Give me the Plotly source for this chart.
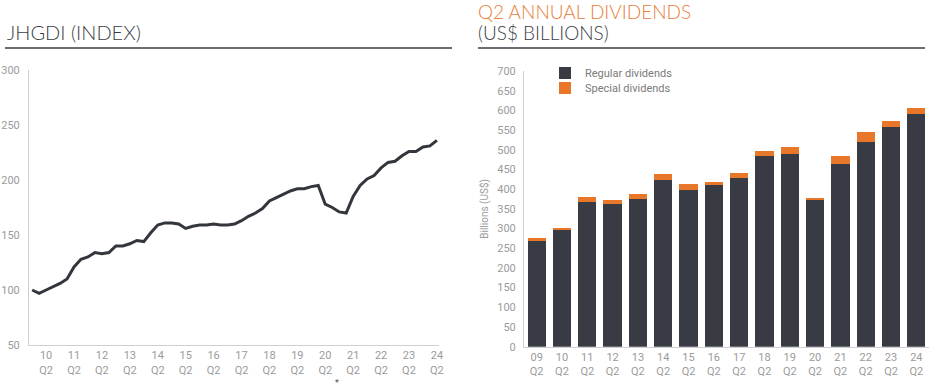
import plotly.graph_objects as go

# ---- Left chart data: JHGDI index, quarterly from 09Q4 to 24Q2 ----
quarters = []
for y in range(9, 25):
    for q in range(1, 5):
        lab = f"{y:02d}Q{q}"
        if (y == 9 and q < 4) or (y == 24 and q > 2):
            continue
        quarters.append(lab)

index_values = [100, 97, 100, 103, 106, 110, 121, 128, 130, 134, 133, 134,
                140, 140, 142, 145, 144, 152, 159, 161, 161, 160, 156, 158,
                159, 159, 160, 159, 159, 160, 163, 167, 170, 174, 181, 184,
                187, 190, 192, 192, 194, 195, 178, 175, 171, 170, 185, 195,
                201, 204, 211, 216, 217, 222, 226, 226, 230, 231, 236]

left_tick_labels = [f"{y}<br>Q2" for y in range(10, 25)]
left_tick_cats = [f"{y}Q2" for y in range(10, 25)]

# ---- Right chart data: Q2 annual dividends (US$ bn) ----
div_years = ["09", "10", "11", "12", "13", "14", "15", "16",
             "17", "18", "19", "20", "21", "22", "23", "24"]
regular = [268, 296, 368, 362, 376, 422, 398, 410,
           429, 484, 489, 374, 464, 519, 559, 591]
special = [9, 6, 13, 11, 11, 16, 15, 9,
           12, 12, 18, 4, 20, 27, 14, 15]
div_labels = [f"{y}<br>Q2" for y in div_years]

W, H = 939, 388
def px(x):
    return x / W
def py(y):
    return 1 - y / H

DARK = "#383b44"
ORANGE = "#e8772a"
TICK = "#9b9b9b"
AXIS = "#cfcfcf"

fig = go.Figure()

xs = list(range(len(quarters)))
fig.add_trace(go.Scatter(x=xs, y=index_values, mode="lines",
                         line=dict(color="#33363d", width=3),
                         xaxis="x", yaxis="y", showlegend=False))

fig.add_trace(go.Bar(x=div_labels, y=regular, name="Regular dividends",
                     marker=dict(color=DARK, line=dict(width=0)),
                     xaxis="x2", yaxis="y2", legend="legend"))
fig.add_trace(go.Bar(x=div_labels, y=special, name="Special dividends",
                     marker=dict(color=ORANGE, line=dict(width=0)),
                     xaxis="x2", yaxis="y2", legend="legend2"))

tickvals_left = [quarters.index(c) for c in left_tick_cats]

tickfont = dict(family="Roboto", size=11, color=TICK)
legfont = dict(family="Roboto", size=11, color="#7a7a7a")

fig.update_layout(
    width=W, height=H,
    margin=dict(l=0, r=0, t=0, b=0, autoexpand=False),
    paper_bgcolor="white", plot_bgcolor="white",
    barmode="stack", bargap=0.28,
    font=dict(family="Roboto", color=TICK),
    xaxis=dict(domain=[px(29), px(439)], range=[-0.45, 58.3],
               tickvals=tickvals_left, ticktext=left_tick_labels,
               showgrid=False, zeroline=False, showline=True,
               linecolor=AXIS, linewidth=1, ticks="", tickfont=tickfont,
               anchor="y", automargin=False),
    yaxis=dict(domain=[py(345), py(70)], range=[50, 300], dtick=50,
               showgrid=False, zeroline=False, showline=True,
               linecolor=AXIS, linewidth=1, ticks="", tickfont=tickfont,
               anchor="x", ticklabelstandoff=6, automargin=False),
    xaxis2=dict(domain=[px(524), px(929)], showgrid=False, zeroline=False,
                showline=True, linecolor=AXIS, linewidth=1, ticks="",
                tickfont=tickfont, anchor="y2", tickangle=0, automargin=False),
    yaxis2=dict(domain=[py(346.7), py(71)], range=[0, 700], dtick=50,
                showgrid=False, zeroline=False, showline=True,
                linecolor=AXIS, linewidth=1, ticks="", tickfont=tickfont,
                anchor="x2", ticklabelstandoff=5, automargin=False,
                title=dict(text="Billions (US$)", standoff=6,
                           font=dict(family="Roboto", size=10, color=TICK))),
    legend=dict(x=px(545), y=py(73), xanchor="left", yanchor="middle",
                font=legfont, bgcolor="rgba(0,0,0,0)", itemwidth=30),
    legend2=dict(x=px(545), y=py(88), xanchor="left", yanchor="middle",
                 font=legfont, bgcolor="rgba(0,0,0,0)", itemwidth=30),
    showlegend=True,
)

# Titles
fig.add_annotation(x=px(5), y=py(32), xref="paper", yref="paper",
                   text="JHGDI (INDEX)", showarrow=False, xanchor="left",
                   yanchor="middle",
                   font=dict(family="Lato", size=20, weight=300, color="#3a3d45"))
fig.add_annotation(x=px(476), y=py(11), xref="paper", yref="paper",
                   text="Q2 ANNUAL DIVIDENDS", showarrow=False, xanchor="left",
                   yanchor="middle",
                   font=dict(family="Lato", size=19, weight=300, color="#e8803a"))
fig.add_annotation(x=px(476), y=py(32), xref="paper", yref="paper",
                   text="(US$ BILLIONS)", showarrow=False, xanchor="left",
                   yanchor="middle",
                   font=dict(family="Lato", size=19, weight=300, color="#3a3d45"))
fig.add_annotation(x=px(337), y=py(383), xref="paper", yref="paper",
                   text="*", showarrow=False, xanchor="center",
                   yanchor="middle",
                   font=dict(family="Roboto", size=9, color="#555"))

fig.add_shape(type="line", xref="paper", yref="paper",
              x0=px(5), x1=px(452), y0=py(48), y1=py(48),
              line=dict(color="#3a3d45", width=1.5))
fig.add_shape(type="line", xref="paper", yref="paper",
              x0=px(478), x1=px(925), y0=py(48), y1=py(48),
              line=dict(color="#3a3d45", width=1.5))

# remove the default 8px page margin so the figure fills the window exactly
fig.write_html("out.html",
               config={"displayModeBar": False},
               post_script="document.body.style.margin='0';"
                           "document.body.style.overflow='hidden';")
